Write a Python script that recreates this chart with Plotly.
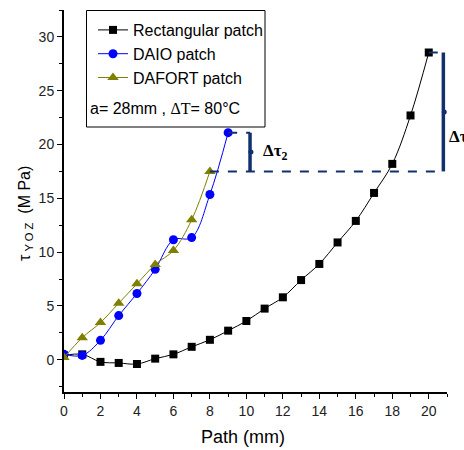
import plotly.graph_objects as go

# ---- data ----
rect_x = list(range(0, 21))
rect_y = [0.4, 0.5, -0.2, -0.3, -0.4, 0.1, 0.5, 1.2, 1.85, 2.7, 3.6, 4.75,
          5.8, 7.4, 8.9, 10.9, 12.9, 15.5, 18.2, 22.7, 28.55]
daio_x = list(range(0, 10))
daio_y = [0.5, 0.4, 1.8, 4.1, 6.15, 8.4, 11.15, 11.35, 15.35, 21.1]
dafort_x = list(range(0, 9))
dafort_y = [0.2, 2.05, 3.45, 5.25, 7.05, 8.85, 10.15, 13.0, 17.5]

x_ticks = list(range(0, 21, 2))
y_ticks = [0, 5, 10, 15, 20, 25, 30]

# bracket positions (mm) for the delta markers
bracket2_x = 10.2
bracket1_x = 20.8

W, H = 464, 450
L, R, T, B = 64, 17, 10, 58
NAVY = "#12306e"
FONT = "Liberation Sans, Arial, sans-serif"
SERIF = "Liberation Serif, Times New Roman, serif"

fig = go.Figure()
fig.add_trace(go.Scatter(x=rect_x, y=rect_y, name="Rectangular patch",
                         mode="lines+markers", line=dict(color="black", width=1, shape="spline"),
                         marker=dict(symbol="square", size=8, color="black")))
fig.add_trace(go.Scatter(x=daio_x, y=daio_y, name="DAIO patch",
                         mode="lines+markers", line=dict(color="#0000ff", width=1, shape="spline"),
                         marker=dict(symbol="circle", size=9, color="#0000ff")))
fig.add_trace(go.Scatter(x=dafort_x, y=dafort_y, name="DAFORT patch",
                         mode="lines+markers", line=dict(color="#808000", width=1, shape="spline"),
                         marker=dict(symbol="triangle-up", size=10, color="#808000")))

# dashed guide lines
top2 = daio_y[-1]
base = dafort_y[-1]
top1 = rect_y[-1]
dash = dict(color=NAVY, width=2, dash="dash")
fig.add_shape(type="line", x0=daio_x[-1], x1=bracket2_x, y0=top2, y1=top2, line=dash)
fig.add_shape(type="line", x0=dafort_x[-1], x1=bracket1_x, y0=base, y1=base, line=dash)
fig.add_shape(type="line", x0=rect_x[-1], x1=bracket1_x, y0=top1, y1=top1, line=dash)
solid = dict(color=NAVY, width=3.5)
fig.add_shape(type="line", x0=bracket2_x, x1=bracket2_x, y0=base, y1=top2, line=solid)
fig.add_shape(type="line", x0=bracket1_x, x1=bracket1_x, y0=base, y1=top1, line=solid)
fig.add_trace(go.Scatter(x=[bracket2_x + 0.05, bracket1_x + 0.05],
                         y=[(base + top2) / 2, (base + top1) / 2],
                         mode="markers", marker=dict(size=5, color=NAVY),
                         showlegend=False, hoverinfo="skip", cliponaxis=False))

pw, ph = W - L - R, H - T - B
def px(xp):
    return (xp - L) / pw
def py(yp):
    return (H - B - yp) / ph

fig.add_annotation(x=bracket2_x + 0.6, y=(base + top2) / 2, xref="x", yref="y",
                   text="<b>Δτ<sub>2</sub></b>", showarrow=False, xanchor="left",
                   font=dict(family=SERIF, size=17, color="black"))
fig.add_annotation(x=px(447), y=py(138), xref="paper", yref="paper",
                   text="<b>Δτ<sub>1</sub></b>", showarrow=False, xanchor="left",
                   font=dict(family=SERIF, size=17, color="black"))

# legend box and extra line
fig.add_shape(type="rect", xref="paper", yref="paper",
              x0=px(86.5), x1=px(265), y0=py(127), y1=py(10.5),
              line=dict(color="black", width=1), fillcolor="white", layer="above")
fig.add_annotation(xref="paper", yref="paper", x=px(88), y=py(108),
                   text="a= 28mm , <span style='font-family:Liberation Serif'>ΔT</span>= 80°C",
                   showarrow=False, xanchor="left", yanchor="middle",
                   font=dict(family=FONT, size=16, color="black"))

# axis titles
fig.add_annotation(xref="paper", yref="paper", x=px(243), y=py(437),
                   text="Path (mm)", showarrow=False, xanchor="center", yanchor="middle",
                   font=dict(family=FONT, size=18, color="black"))
fig.add_annotation(xref="paper", yref="paper", x=px(25), y=py(214),
                   text="τ<sub> Y O Z</sub>  (M Pa)", showarrow=False, textangle=-90,
                   xanchor="center", yanchor="middle",
                   font=dict(family=FONT, size=16, color="black"))

fig.update_layout(
    width=W, height=H, margin=dict(l=L, r=R, t=T, b=B),
    paper_bgcolor="white", plot_bgcolor="white",
    font=dict(family=FONT, size=14, color="#222"),
    legend=dict(x=px(93), y=py(13), xanchor="left", yanchor="top",
                bgcolor="rgba(0,0,0,0)", borderwidth=0,
                font=dict(family=FONT, size=16, color="black"), tracegroupgap=0),
    showlegend=True,
)
fig.update_xaxes(range=[0, 21], tickvals=x_ticks, ticks="outside", ticklen=5, tickwidth=1,
                 showline=True, linecolor="black", linewidth=2, showgrid=False, zeroline=False,
                 minor=dict(dtick=1, ticks="outside", ticklen=3, tickcolor="black"),
                 tickcolor="black", tickfont=dict(family=FONT, size=14, color="#222"))
fig.update_yaxes(range=[-3, 32.5], tickvals=y_ticks, ticks="outside", ticklen=5, tickwidth=1,
                 showline=True, linecolor="black", linewidth=2, showgrid=False, zeroline=False,
                 minor=dict(tickvals=[-2.5, 2.5, 7.5, 12.5, 17.5, 22.5, 27.5, 32.5],
                            ticks="outside", ticklen=3, tickcolor="black"),
                 tickcolor="black", tickfont=dict(family=FONT, size=14, color="#222"))

fig.write_html("out.html")
